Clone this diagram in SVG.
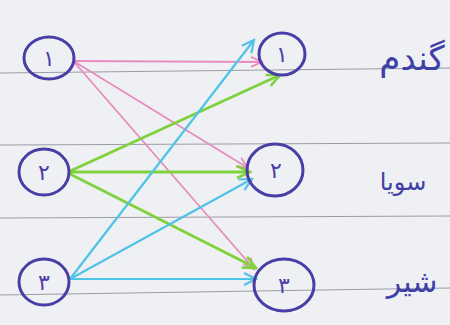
<svg xmlns="http://www.w3.org/2000/svg" width="450" height="325" viewBox="0 0 450 325">
<defs>
<style>
.rule{stroke:#9c9ca6;stroke-width:1.2;fill:none}
.node ellipse{fill:none;stroke:#4a3ea6;stroke-width:3}
.node text{font-family:"DejaVu Sans","Noto Sans",sans-serif;font-size:22px;fill:#4a3ea6;text-anchor:middle}
.lbl{font-family:"DejaVu Sans","Noto Sans",sans-serif;fill:#3f3fa8;text-anchor:middle}
.pink{stroke:#e68cbf;stroke-width:1.8;fill:none}
.green{stroke:#7fd23c;stroke-width:2.8;fill:none}
.cyan{stroke:#4fc3e6;stroke-width:2.2;fill:none}
</style>
<marker id="ap" viewBox="-12 -7 14 14" markerWidth="14" markerHeight="14" refX="0" refY="0" orient="auto" markerUnits="userSpaceOnUse"><path d="M-11,-5 L0,0 L-11,5" fill="none" stroke="#e68cbf" stroke-width="1.8"/></marker>
<marker id="ag" viewBox="-14 -8 16 16" markerWidth="16" markerHeight="16" refX="0" refY="0" orient="auto" markerUnits="userSpaceOnUse"><path d="M-13,-6 L0,0 L-13,6" fill="none" stroke="#7fd23c" stroke-width="2.6"/></marker>
<marker id="ac" viewBox="-14 -8 16 16" markerWidth="16" markerHeight="16" refX="0" refY="0" orient="auto" markerUnits="userSpaceOnUse"><path d="M-12,-6 L0,0 L-12,6" fill="none" stroke="#4fc3e6" stroke-width="2.2"/></marker>
</defs>
<rect width="450" height="325" fill="#eff0f3"/>
<g id="paper-lines">
<line class="rule" x1="0" y1="73" x2="450" y2="68"/>
<line class="rule" x1="0" y1="145" x2="450" y2="143"/>
<line class="rule" x1="0" y1="218" x2="450" y2="216"/>
<line class="rule" x1="0" y1="295" x2="450" y2="288"/>
</g>
<g id="connectors">
<path class="pink" d="M75,61 L262,62" marker-end="url(#ap)"/>
<path class="pink" d="M75,62 L248,168" marker-end="url(#ap)"/>
<path class="pink" d="M75,63 L254,269" marker-end="url(#ap)"/>
<path class="green" d="M68,172 L280,75" marker-end="url(#ag)"/>
<path class="green" d="M68,172 L250,172" marker-end="url(#ag)"/>
<path class="green" d="M68,173 L256,268" marker-end="url(#ag)"/>
<path class="cyan" d="M70,279 L254,40" marker-end="url(#ac)"/>
<path class="cyan" d="M70,279 L252,179" marker-end="url(#ac)"/>
<path class="cyan" d="M70,279 L256,279" marker-end="url(#ac)"/>
</g>
<g id="L1" class="node"><ellipse cx="49" cy="58" rx="25" ry="21"/><text x="49" y="66">۱</text></g>
<g id="L2" class="node"><ellipse cx="44" cy="172" rx="25" ry="23"/><text x="44" y="180">۲</text></g>
<g id="L3" class="node"><ellipse cx="44" cy="282" rx="25" ry="23"/><text x="44" y="290">۳</text></g>
<g id="R1" class="node"><ellipse cx="282" cy="54" rx="23" ry="21"/><text x="282" y="62">۱</text></g>
<g id="R2" class="node"><ellipse cx="275" cy="170" rx="28" ry="26"/><text x="276" y="178">۲</text></g>
<g id="R3" class="node"><ellipse cx="284" cy="285" rx="30" ry="26"/><text x="284" y="293">۳</text></g>
<g id="labels">
<text class="lbl" x="412" y="70" font-size="34">گندم</text>
<text class="lbl" x="403" y="190" font-size="24">سویا</text>
<text class="lbl" x="412" y="292" font-size="30">شیر</text>
</g>
</svg>
